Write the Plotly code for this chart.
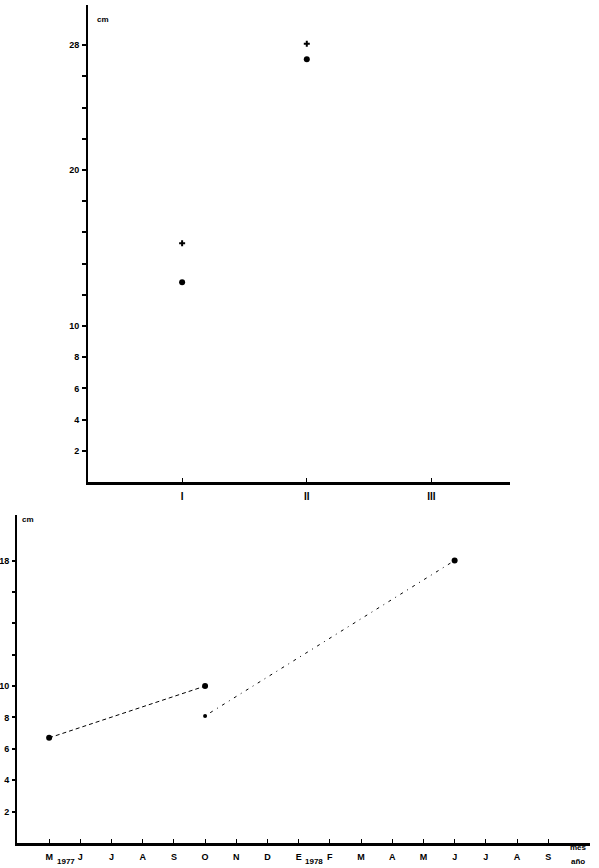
import plotly.graph_objects as go

# ---- Top chart data ----
top_categories = ["I", "II", "III"]
top_plus_values = [15.3, 28.1]          # "+" markers for I, II
top_dot_values = [12.8, 27.1]           # filled dots for I, II
top_ytick_vals = [2, 4, 6, 8, 10, 12, 14, 16, 18, 20, 22, 24, 26, 28]
top_ytick_text = ["2", "4", "6", "8", "10", "", "", "", "", "20", "", "", "", "28"]

# ---- Bottom chart data ----
month_keys = ["1977-05", "1977-06", "1977-07", "1977-08", "1977-09", "1977-10",
              "1977-11", "1977-12", "1978-01", "1978-02", "1978-03", "1978-04",
              "1978-05", "1978-06", "1978-07", "1978-08", "1978-09"]
month_labels = ["M", "J", "J", "A", "S", "O", "N", "D", "E", "F", "M", "A",
                "M", "J", "J", "A", "S"]
series1_dates = ["1977-05", "1977-10"]
series1_values = [6.7, 10.0]
series2_dates = ["1977-10", "1978-06"]
series2_values = [8.1, 18.0]
bot_ytick_vals = [2, 4, 6, 8, 10, 12, 14, 16, 18]
bot_ytick_text = ["2", "4", "6", "8", "10", "", "", "", "18"]

s1_x = [month_keys.index(d) for d in series1_dates]
s2_x = [month_keys.index(d) for d in series2_dates]

W, H = 599, 868
def fx(px):
    return px / W
def fy(py):
    return 1 - py / H

FONT = "Liberation Sans"
black = "black"

fig = go.Figure()

# top chart
fig.add_trace(go.Scatter(x=top_categories[:2], y=top_plus_values, mode="markers",
                         marker=dict(symbol="cross", size=5, color=black,
                                     line=dict(width=0)),
                         xaxis="x", yaxis="y", showlegend=False, hoverinfo="skip"))
fig.add_trace(go.Scatter(x=top_categories[:2], y=top_dot_values, mode="markers",
                         marker=dict(symbol="circle", size=6, color=black,
                                     line=dict(width=0)),
                         xaxis="x", yaxis="y", showlegend=False, hoverinfo="skip"))

# bottom chart
fig.add_trace(go.Scatter(x=s1_x, y=series1_values, mode="lines+markers",
                         line=dict(color=black, width=1, dash="4px,3px"),
                         marker=dict(symbol="circle", size=6, color=black,
                                     line=dict(width=0)),
                         xaxis="x2", yaxis="y2", showlegend=False, hoverinfo="skip"))
fig.add_trace(go.Scatter(x=s2_x, y=series2_values, mode="lines+markers",
                         line=dict(color=black, width=1, dash="1px,5px,3px,5px"),
                         marker=dict(symbol="circle", size=[4, 6], color=black,
                                     opacity=1, line=dict(width=0)),
                         xaxis="x2", yaxis="y2", showlegend=False, hoverinfo="skip"))

tickfont = dict(family=FONT, size=9, color=black, weight="bold")

fig.update_layout(
    template="simple_white",
    width=W, height=H,
    margin=dict(l=0, r=0, t=0, b=0),
    paper_bgcolor="white", plot_bgcolor="white",
    font=dict(family=FONT, color=black),
    hovermode=False,
    xaxis=dict(domain=[fx(88), fx(510)], anchor="y",
               type="category", categoryorder="array", categoryarray=top_categories,
               range=[-0.755, 2.63],
               showline=True, linecolor=black, linewidth=3,
               ticks="inside", ticklen=4, tickwidth=1, tickcolor=black,
               showgrid=False, zeroline=False,
               tickfont=dict(family=FONT, size=10, color=black, weight="bold"),
               ticklabelstandoff=3),
    yaxis=dict(domain=[fy(482), fy(5)], anchor="x",
               range=[0, 30.58],
               tickmode="array", tickvals=top_ytick_vals, ticktext=top_ytick_text,
               showline=True, linecolor=black, linewidth=2,
               ticks="outside", ticklen=4, tickwidth=2, tickcolor=black,
               showgrid=False, zeroline=False, tickfont=tickfont,
               ticklabelstandoff=1),
    xaxis2=dict(domain=[fx(17), fx(590)], anchor="y2",
                range=[-1.03, 17.34],
                tickmode="array", tickvals=list(range(len(month_labels))),
                ticktext=month_labels,
                showline=True, linecolor=black, linewidth=3,
                ticks="inside", ticklen=4, tickwidth=1, tickcolor=black,
                showgrid=False, zeroline=False, tickfont=tickfont,
                ticklabelstandoff=3),
    yaxis2=dict(domain=[fy(843), fy(515)], anchor="x2",
                range=[0, 20.9],
                tickmode="array", tickvals=bot_ytick_vals, ticktext=bot_ytick_text,
                showline=True, linecolor=black, linewidth=2,
                ticks="outside", ticklen=3, tickwidth=2, tickcolor=black,
                showgrid=False, zeroline=False, tickfont=tickfont,
                ticklabelstandoff=1),
)

ann_font = dict(family=FONT, size=8, color=black, weight="bold")
fig.add_annotation(text="cm", xref="paper", yref="paper", x=fx(95), y=fy(19),
                   xanchor="left", yanchor="middle", showarrow=False, font=ann_font)
fig.add_annotation(text="cm", xref="paper", yref="paper", x=fx(20), y=fy(519),
                   xanchor="left", yanchor="middle", showarrow=False, font=ann_font)
fig.add_annotation(text="1977", xref="paper", yref="paper", x=fx(66), y=fy(861),
                   xanchor="center", yanchor="middle", showarrow=False, font=ann_font)
fig.add_annotation(text="1978", xref="paper", yref="paper", x=fx(314), y=fy(861),
                   xanchor="center", yanchor="middle", showarrow=False, font=ann_font)
fig.add_annotation(text="mes", xref="paper", yref="paper", x=fx(578), y=fy(847),
                   xanchor="center", yanchor="middle", showarrow=False, font=ann_font)
fig.add_annotation(text="año", xref="paper", yref="paper", x=fx(578), y=fy(861),
                   xanchor="center", yanchor="middle", showarrow=False, font=ann_font)

fig.write_html("out.html",
               config={"displayModeBar": False, "staticPlot": True},
               post_script="document.body.style.margin='0';document.body.style.overflow='hidden';")
